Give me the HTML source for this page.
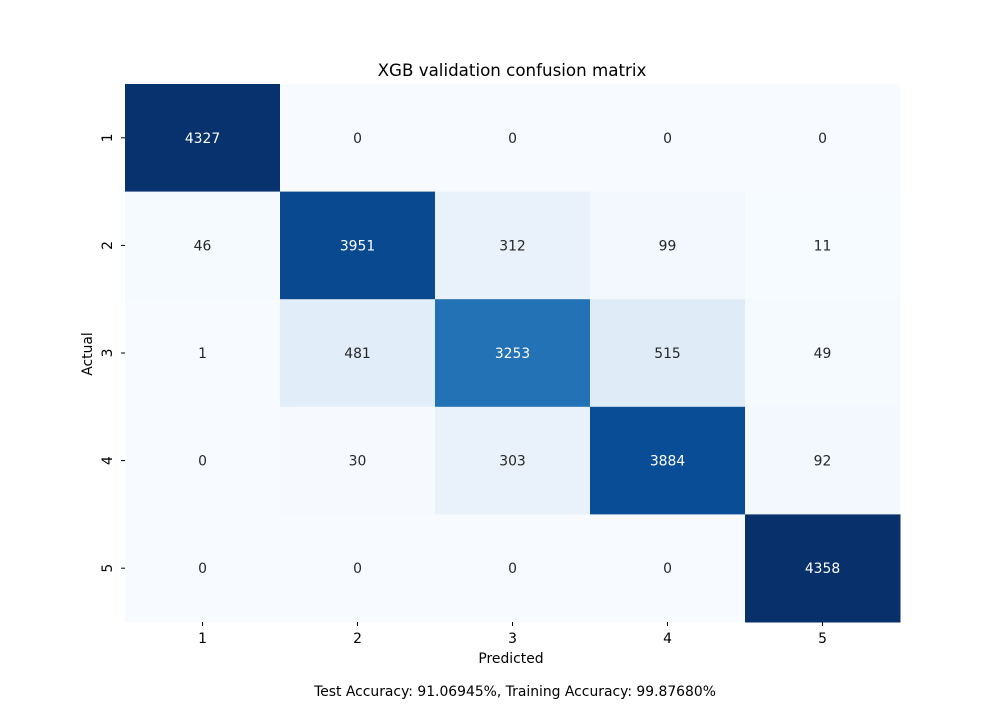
<!DOCTYPE html>
<html><head><meta charset="utf-8">
<style>
body{margin:0;background:#fff;}
svg{font-family:"DejaVu Sans","Liberation Sans",sans-serif;}
</style></head>
<body>
<svg id="chart" width="1000" height="700">
<text x="512" y="76" text-anchor="middle" font-size="16.7" fill="#000">XGB validation confusion matrix</text>
<g id="cells"></g>
<g id="axes"></g>
<text x="511" y="663" text-anchor="middle" font-size="13.9">Predicted</text>
<text transform="translate(92,354) rotate(-90)" text-anchor="middle" font-size="13.9">Actual</text>
<text x="515" y="696" text-anchor="middle" font-size="13.9">Test Accuracy: 91.06945%, Training Accuracy: 99.87680%</text>
</svg>
<script>
const predLabels = ["1","2","3","4","5"];
const actualLabels = ["1","2","3","4","5"];
const row1 = [4327,0,0,0,0];
const row2 = [46,3951,312,99,11];
const row3 = [1,481,3253,515,49];
const row4 = [0,30,303,3884,92];
const row5 = [0,0,0,0,4358];
const matrix = [row1,row2,row3,row4,row5];

const L=125,R=900,T=84,B=622;
const cw=(R-L)/predLabels.length, ch=(B-T)/actualLabels.length;
const xPos=i=>L+i*cw, yPos=j=>T+j*ch;
const stops=["#f7fbff","#deebf7","#c6dbef","#9ecae1","#6baed6","#4292c6","#2171b5","#08519c","#08306b"];
function hex(h){return [1,3,5].map(k=>parseInt(h.substr(k,2),16));}
let vmax=0; matrix.forEach(r=>r.forEach(v=>{if(v>vmax)vmax=v;}));
function color(v){
  let t=Math.max(0,Math.min(1,v/vmax))*(stops.length-1);
  let i=Math.min(Math.floor(t),stops.length-2), f=t-i;
  let a=hex(stops[i]),b=hex(stops[i+1]);
  let c=a.map((x,k)=>Math.round(x+(b[k]-x)*f));
  return {css:`rgb(${c[0]},${c[1]},${c[2]})`,lum:(0.299*c[0]+0.587*c[1]+0.114*c[2])/255};
}
const NS="http://www.w3.org/2000/svg";
const cells=document.getElementById('cells');
matrix.forEach((row,j)=>row.forEach((v,i)=>{
  const c=color(v);
  const r=document.createElementNS(NS,'rect');
  r.setAttribute('x',xPos(i));r.setAttribute('y',yPos(j));
  r.setAttribute('width',cw+0.5);r.setAttribute('height',ch+0.5);
  r.setAttribute('fill',c.css);
  
  
  cells.appendChild(r);
  const t=document.createElementNS(NS,'text');
  t.setAttribute('x',xPos(i)+cw/2);t.setAttribute('y',yPos(j)+ch/2+5);
  t.setAttribute('text-anchor','middle');t.setAttribute('font-size','13.9');
  t.setAttribute('fill',c.lum<0.5?'#ffffff':'#262626');
  t.textContent=v;
  
  
  cells.appendChild(t);
}));
const axes=document.getElementById('axes');
predLabels.forEach((lab,i)=>{
  const x=xPos(i)+cw/2;
  const l=document.createElementNS(NS,'line');
  l.setAttribute('x1',x);l.setAttribute('x2',x);l.setAttribute('y1',B);l.setAttribute('y2',B+4);
  l.setAttribute('stroke','#000');
  
  
  axes.appendChild(l);
  const t=document.createElementNS(NS,'text');
  t.setAttribute('x',x);t.setAttribute('y',B+21);t.setAttribute('text-anchor','middle');t.setAttribute('font-size','13.9');
  t.textContent=lab;
  
  
  axes.appendChild(t);
});
actualLabels.forEach((lab,j)=>{
  const y=yPos(j)+ch/2;
  const l=document.createElementNS(NS,'line');
  l.setAttribute('x1',L-4);l.setAttribute('x2',L);l.setAttribute('y1',y);l.setAttribute('y2',y);
  l.setAttribute('stroke','#000');
  
  
  axes.appendChild(l);
  const t=document.createElementNS(NS,'text');
  t.setAttribute('transform',`translate(${L-13},${y}) rotate(-90)`);
  t.setAttribute('text-anchor','middle');t.setAttribute('font-size','13.9');
  t.textContent=lab;
  
  
  axes.appendChild(t);
});
</script>
</body></html>
